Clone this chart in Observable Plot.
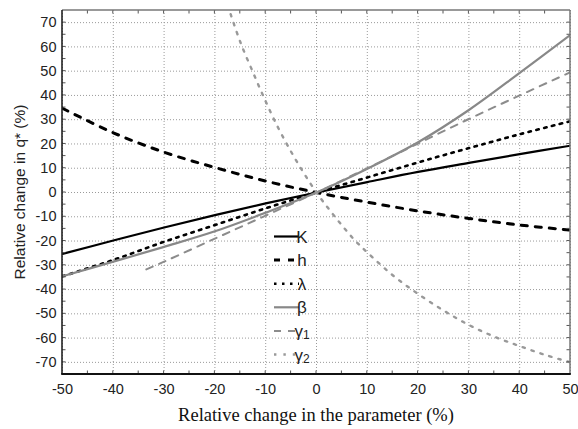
<!DOCTYPE html>
<html><head><meta charset="utf-8">
<script src="https://cdn.jsdelivr.net/npm/d3@7"></script>
<script src="https://cdn.jsdelivr.net/npm/@observablehq/plot@0.6"></script>
<style>
body{margin:0;background:#fff;}
#chart{position:relative;width:578px;height:429px;}
</style></head><body><div id="chart"></div>
<script>
// ---- data ----
const xVals   = [-50, -40, -30, -20, -10, 0, 10, 20, 30, 40, 50];
const kVals   = [-25.3, -19.8, -14.4, -9.3, -4.5, 0, 4.3, 8.5, 12.2, 15.8, 19.3];
const hVals   = [34.7, 24.6, 16.6, 10.3, 4.7, 0, -4.0, -7.6, -10.7, -13.4, -15.5];
const lamVals = [-34.5, -27.8, -20.3, -13.4, -6.5, 0, 6.2, 12.4, 18.3, 24.0, 29.4];
const betaVals= [-34.5, -28.5, -22.4, -16.0, -8.3, 0, 9.8, 20.7, 34.0, 49.3, 65.0];
const g1X     = [-33.5, -30, -20, -10, 0, 10, 20, 30, 40, 50];
const g1Vals  = [-31.7, -28.5, -19.0, -9.5, 0, 10.0, 20.2, 30.3, 40.0, 49.6];
const g2X     = [-16.9, -15, -12.5, -10, -7.5, -5, -2.5, 0, 2.5, 5, 7.5, 10, 15, 20, 25, 30, 35, 40, 45, 50];
const g2Vals  = [73.5, 62.0, 49.5, 37.5, 26.5, 16.8, 8.0, 0, -7.0, -13.5, -19.6, -24.7, -34.1, -41.8, -48.6, -54.6, -59.4, -63.3, -66.9, -70.0];
const xTicks  = [-50, -40, -30, -20, -10, 0, 10, 20, 30, 40, 50];
const yTicks  = [-70, -60, -50, -40, -30, -20, -10, 0, 10, 20, 30, 40, 50, 60, 70];
const xMinor  = [-45, -40, -35, -30, -25, -20, -15, -10, -5, 0, 5, 10, 15, 20, 25, 30, 35, 40, 45];
const yMinor  = [-70, -65, -60, -55, -50, -45, -40, -35, -30, -25, -20, -15, -10, -5, 0, 5, 10, 15, 20, 25, 30, 35, 40, 45, 50, 55, 60, 65, 70];
const seriesNames = ["K", "h", "λ", "β", "γ1", "γ2"];

const styles = {
  "K":  {stroke: "#000", width: 2.2, dash: null},
  "h":  {stroke: "#000", width: 3, dash: "6,8"},
  "λ":  {stroke: "#000", width: 2.6, dash: "2.5,5.5"},
  "β":  {stroke: "#888", width: 2.2, dash: null},
  "γ1": {stroke: "#8c8c8c", width: 2, dash: "7,7"},
  "γ2": {stroke: "#999", width: 2.4, dash: "2.4,7"}
};

const seriesData = {
  "K":  xVals.map((x, i) => ({x, y: kVals[i]})),
  "h":  xVals.map((x, i) => ({x, y: hVals[i]})),
  "λ":  xVals.map((x, i) => ({x, y: lamVals[i]})),
  "β":  xVals.map((x, i) => ({x, y: betaVals[i]})),
  "γ1": g1X.map((x, i) => ({x, y: g1Vals[i]})),
  "γ2": g2X.map((x, i) => ({x, y: g2Vals[i]}))
};

const lineMarks = seriesNames.map(name => Plot.line(seriesData[name], {
  x: "x", y: "y", stroke: styles[name].stroke, strokeWidth: styles[name].width,
  strokeDasharray: styles[name].dash || undefined, curve: "catmull-rom", clip: true
}));

const chart = Plot.plot({
  width: 578, height: 429,
  marginLeft: 62, marginRight: 8, marginTop: 10, marginBottom: 55,
  style: {fontFamily: "'Liberation Sans', Arial, sans-serif", fontSize: "14.5px", color: "#222", background: "white"},
  x: {domain: [-50, 50]},
  y: {domain: [-75, 75]},
  marks: [
    Plot.gridX(xTicks, {stroke: "#9a9a9a", strokeOpacity: 1, strokeDasharray: "1,2"}),
    Plot.gridY(yTicks, {stroke: "#9a9a9a", strokeOpacity: 1, strokeDasharray: "1,2"}),
    ...lineMarks,
    Plot.axisX(xTicks, {tickSize: 0, tickPadding: 9, tickFormat: d => String(d), label: null, fill: "#222"}),
    Plot.axisY(yTicks, {tickSize: 0, tickPadding: 6, tickFormat: d => String(d), label: null, fill: "#222"})
  ]
});
document.getElementById("chart").appendChild(chart);

const sx = v => chart.scale("x").apply(v);
const sy = v => chart.scale("y").apply(v);
const svg = d3.select(chart);
const x0 = sx(-50), x1 = sx(50), y0 = sy(-75), y1 = sy(75);

// inward ticks on all four sides
const tg = svg.append("g").attr("stroke", "#555").attr("stroke-width", 1);
xMinor.forEach(v => {
  tg.append("line").attr("x1", sx(v)).attr("x2", sx(v)).attr("y1", y0).attr("y2", y0 - 3.5);
  tg.append("line").attr("x1", sx(v)).attr("x2", sx(v)).attr("y1", y1).attr("y2", y1 + 3.5);
});
yMinor.forEach(v => {
  tg.append("line").attr("y1", sy(v)).attr("y2", sy(v)).attr("x1", x0).attr("x2", x0 + 3.5);
  tg.append("line").attr("y1", sy(v)).attr("y2", sy(v)).attr("x1", x1).attr("x2", x1 - 3.5);
});

// frame
const fg = svg.append("g").attr("fill", "none");
fg.append("line").attr("x1", x0).attr("x2", x1).attr("y1", y1).attr("y2", y1).attr("stroke", "#777").attr("stroke-width", 1.5);
fg.append("line").attr("x1", x1).attr("x2", x1).attr("y1", y1).attr("y2", y0).attr("stroke", "#777").attr("stroke-width", 1.5);
fg.append("line").attr("x1", x0).attr("x2", x0).attr("y1", y1).attr("y2", y0).attr("stroke", "#222").attr("stroke-width", 1.6);
fg.append("line").attr("x1", x0 - 0.8).attr("x2", x1 + 0.8).attr("y1", y0).attr("y2", y0).attr("stroke", "#111").attr("stroke-width", 1.8);

// axis titles
svg.append("text")
  .attr("transform", `translate(19,${(y0 + y1) / 2}) rotate(-90)`)
  .attr("text-anchor", "middle").attr("dominant-baseline", "central")
  .attr("font-family", "'Liberation Sans', Arial, sans-serif").attr("font-size", 15.5).attr("fill", "#222")
  .text("Relative change in q* (%)");
svg.append("text")
  .attr("x", (x0 + x1) / 2).attr("y", 421)
  .attr("text-anchor", "middle")
  .attr("font-family", "'Liberation Serif', 'Times New Roman', serif").attr("font-size", 18.5).attr("fill", "#111")
  .text("Relative change in the parameter (%)");

// legend
const lg = svg.append("g");
seriesNames.forEach((name, i) => {
  const yy = 236.5 + i * 23.6;
  const st = styles[name];
  lg.append("line").attr("x1", 274).attr("x2", 299).attr("y1", yy).attr("y2", yy)
    .attr("stroke", st.stroke).attr("stroke-width", st.width)
    .attr("stroke-dasharray", st.dash || null);
  const t = lg.append("text").attr("x", 302).attr("y", yy + 6)
    .attr("font-family", "'Liberation Sans', Arial, sans-serif").attr("font-size", 17).attr("fill", "#222");
  if (name.length > 1 && name[0] === "γ") {
    t.append("tspan").text("γ");
    t.append("tspan").attr("font-size", 12).attr("dy", 2).text(name.slice(1));
  } else {
    t.text(name);
  }
});
</script>
</body></html>
